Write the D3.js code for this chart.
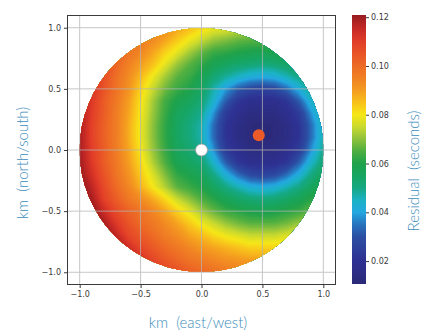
<!DOCTYPE html>
<html><head><meta charset="utf-8">
<script src="https://cdn.jsdelivr.net/npm/d3@7"></script>
<style>body{margin:0;background:#fff}svg{display:block}</style>
</head><body>
<svg id="c" width="424" height="331"></svg>
<script>
// ---- data ----
const xTicks = [-1.0, -0.5, 0.0, 0.5, 1.0];
const yTicks = [-1.0, -0.5, 0.0, 0.5, 1.0];
const cbTicks = [0.02, 0.04, 0.06, 0.08, 0.10, 0.12];
const cbRange = [0.0106, 0.1209];
const gridX = [-1.0,-0.9,-0.8,-0.7,-0.6,-0.5,-0.4,-0.3,-0.2,-0.1,0.0,0.1,0.2,0.3,0.4,0.5,0.6,0.7,0.8,0.9,1.0];
const gridY = [1.0,0.9,0.8,0.7,0.6,0.5,0.4,0.3,0.2,0.1,0.0,-0.1,-0.2,-0.3,-0.4,-0.5,-0.6,-0.7,-0.8,-0.9,-1.0];
// residual (seconds), rows = gridY, cols = gridX
const residual = [
[0.131,0.127,0.120,0.111,0.104,0.100,0.096,0.093,0.089,0.086,0.082,0.079,0.078,0.076,0.075,0.075,0.075,0.077,0.079,0.082,0.086],
[0.129,0.124,0.117,0.107,0.101,0.097,0.093,0.089,0.084,0.079,0.075,0.071,0.069,0.067,0.066,0.066,0.066,0.068,0.071,0.075,0.079],
[0.127,0.122,0.112,0.104,0.098,0.094,0.089,0.083,0.078,0.072,0.067,0.063,0.062,0.060,0.059,0.058,0.059,0.061,0.063,0.067,0.072],
[0.125,0.119,0.108,0.101,0.095,0.090,0.085,0.078,0.071,0.066,0.062,0.058,0.055,0.053,0.052,0.051,0.052,0.054,0.057,0.061,0.065],
[0.123,0.116,0.106,0.099,0.093,0.086,0.079,0.072,0.066,0.063,0.058,0.052,0.048,0.045,0.042,0.041,0.042,0.046,0.050,0.055,0.060],
[0.121,0.113,0.105,0.098,0.092,0.083,0.075,0.068,0.063,0.060,0.055,0.047,0.039,0.032,0.028,0.026,0.028,0.034,0.042,0.050,0.056],
[0.120,0.111,0.103,0.097,0.090,0.081,0.072,0.064,0.059,0.056,0.052,0.044,0.032,0.022,0.018,0.018,0.018,0.022,0.032,0.044,0.052],
[0.119,0.110,0.103,0.096,0.089,0.080,0.071,0.063,0.056,0.053,0.049,0.038,0.024,0.018,0.014,0.014,0.014,0.018,0.024,0.038,0.049],
[0.119,0.109,0.102,0.096,0.088,0.079,0.070,0.062,0.055,0.051,0.047,0.034,0.021,0.015,0.012,0.011,0.012,0.015,0.021,0.034,0.047],
[0.119,0.109,0.102,0.096,0.088,0.079,0.070,0.062,0.055,0.051,0.047,0.034,0.021,0.015,0.012,0.011,0.012,0.015,0.021,0.034,0.047],
[0.119,0.110,0.103,0.096,0.089,0.080,0.071,0.063,0.056,0.053,0.049,0.038,0.024,0.018,0.014,0.014,0.014,0.018,0.024,0.038,0.049],
[0.120,0.111,0.103,0.097,0.090,0.082,0.073,0.065,0.058,0.055,0.052,0.044,0.032,0.022,0.018,0.018,0.018,0.022,0.032,0.044,0.052],
[0.121,0.113,0.105,0.098,0.092,0.084,0.077,0.069,0.062,0.059,0.056,0.050,0.042,0.034,0.028,0.026,0.028,0.034,0.042,0.050,0.056],
[0.123,0.116,0.107,0.100,0.094,0.087,0.080,0.073,0.066,0.063,0.060,0.055,0.050,0.046,0.042,0.041,0.042,0.046,0.050,0.055,0.060],
[0.125,0.119,0.109,0.103,0.097,0.093,0.088,0.082,0.075,0.070,0.065,0.061,0.057,0.054,0.052,0.051,0.052,0.054,0.057,0.061,0.065],
[0.127,0.122,0.114,0.107,0.102,0.098,0.094,0.089,0.083,0.078,0.072,0.067,0.063,0.061,0.059,0.058,0.059,0.061,0.063,0.067,0.072],
[0.129,0.124,0.119,0.111,0.105,0.100,0.097,0.093,0.089,0.084,0.079,0.075,0.071,0.068,0.066,0.066,0.066,0.068,0.071,0.075,0.079],
[0.131,0.127,0.122,0.116,0.108,0.104,0.100,0.096,0.093,0.089,0.086,0.082,0.079,0.077,0.075,0.075,0.075,0.077,0.079,0.082,0.086],
[0.134,0.130,0.126,0.121,0.114,0.108,0.104,0.100,0.097,0.094,0.091,0.089,0.087,0.085,0.083,0.083,0.083,0.085,0.087,0.089,0.091],
[0.137,0.133,0.129,0.125,0.120,0.114,0.108,0.104,0.101,0.098,0.096,0.094,0.092,0.091,0.090,0.090,0.090,0.091,0.092,0.094,0.096],
[0.139,0.136,0.132,0.128,0.125,0.120,0.115,0.109,0.106,0.103,0.101,0.099,0.097,0.096,0.096,0.096,0.096,0.096,0.097,0.099,0.101]
];
const diskRadius = 1.0;
const pointX = [0.0, 0.47];
const pointY = [0.0, 0.12];
// colour map stops (value -> colour)
const stopValues = [0.0106,0.02,0.03,0.035,0.04,0.045,0.05,0.055,0.06,0.065,0.07,0.075,0.08,0.085,0.09,0.095,0.10,0.105,0.11,0.115,0.1209];
const stopColors = ["#2b2a78","#2e3192","#2c4fa3","#2873bd","#24a7e0","#1bb2c4","#16a882","#17a560","#1fa24b","#4dae41","#8dc23c","#c9d92e","#f6e717","#f8c11b","#f49c20","#f08123","#ed6b25","#e95427","#e13d29","#c72a25","#981b1f"];

// ---- drawing ----
const svg = d3.select('#c');
const x = d3.scaleLinear().domain([-1.1, 1.1]).range([67.5, 335.5]);
const y = d3.scaleLinear().domain([-1.1, 1.1]).range([284.5, 15.5]);
const color = d3.scaleLinear().domain(stopValues).range(stopColors).clamp(true);

const defs = svg.append('defs');
defs.append('clipPath').attr('id', 'disk').append('circle')
  .attr('cx', x(0)).attr('cy', y(0)).attr('r', x(diskRadius) - x(0));

const nx = gridX.length, ny = gridY.length;
const values = residual.flat();
const step = 0.0012;
const thresholds = [-1].concat(d3.range(cbRange[0] + step, 0.1215, step));
const contours = d3.contours().size([nx, ny]).thresholds(thresholds)(values);
const dxg = gridX[1] - gridX[0], dyg = gridY[1] - gridY[0];
const proj = d3.geoTransform({
  point(px, py) {
    this.stream.point(x(gridX[0] + (px - 0.5) * dxg), y(gridY[0] + (py - 0.5) * dyg));
  }
});
const path = d3.geoPath(proj);

svg.append('g').attr('clip-path', 'url(#disk)')
  .selectAll('path').data(contours).join('path')
  .attr('d', path)
  .attr('fill', (d, i) => i === 0 ? color(cbRange[0]) : color(d.value + step / 2))
  .attr('stroke', 'none');

// grid lines
const grid = svg.append('g').attr('stroke', '#b4b4b4').attr('stroke-width', 1).attr('opacity', 0.75);
grid.selectAll('.gx').data(xTicks).join('line')
  .attr('x1', d => x(d)).attr('x2', d => x(d)).attr('y1', y(1.1)).attr('y2', y(-1.1));
grid.selectAll('.gy').data(yTicks).join('line')
  .attr('y1', d => y(d)).attr('y2', d => y(d)).attr('x1', x(-1.1)).attr('x2', x(1.1));

// markers
const mk = svg.append('g');
mk.selectAll('circle').data(pointX).join('circle')
  .attr('cx', d => x(d)).attr('cy', (d, i) => y(pointY[i])).attr('r', 6)
  .attr('fill', (d, i) => i === 0 ? '#ffffff' : '#ec5a2a')
  .attr('stroke', (d, i) => i === 0 ? '#9a9a9a' : 'none')
  .attr('stroke-width', 0.8);

// axes
const fmt = d => (d < 0 ? '\u2212' : '') + Math.abs(d).toFixed(1);
const ax = svg.append('g').attr('transform', `translate(0,${y(-1.1)})`)
  .call(d3.axisBottom(x).tickValues(xTicks).tickFormat(fmt).tickSize(3.5).tickPadding(3));
const ay = svg.append('g').attr('transform', `translate(${x(-1.1)},0)`)
  .call(d3.axisLeft(y).tickValues(yTicks).tickFormat(fmt).tickSize(3.5).tickPadding(3));
[ax, ay].forEach(g => {
  g.select('.domain').remove();
  g.selectAll('line').attr('stroke', '#3a3a3a');
  g.selectAll('text').attr('fill', '#3a3a3a').style('font-family', 'DejaVu Sans').style('font-size', '8px');
});
svg.append('rect').attr('x', x(-1.1)).attr('y', y(1.1))
  .attr('width', x(1.1) - x(-1.1)).attr('height', y(-1.1) - y(1.1))
  .attr('fill', 'none').attr('stroke', '#3a3a3a').attr('stroke-width', 1);

// colour bar
const cb = d3.scaleLinear().domain(cbRange).range([284, 15]);
const grad = defs.append('linearGradient').attr('id', 'cbg')
  .attr('x1', 0).attr('y1', 1).attr('x2', 0).attr('y2', 0);
grad.selectAll('stop').data(stopValues).join('stop')
  .attr('offset', d => (d - cbRange[0]) / (cbRange[1] - cbRange[0]))
  .attr('stop-color', d => color(d));
svg.append('rect').attr('x', 352).attr('y', cb(cbRange[1])).attr('width', 14)
  .attr('height', cb(cbRange[0]) - cb(cbRange[1])).attr('fill', 'url(#cbg)');
const ac = svg.append('g').attr('transform', 'translate(366,0)')
  .call(d3.axisRight(cb).tickValues(cbTicks).tickFormat(d3.format('.2f')).tickSize(3).tickPadding(2));
ac.select('.domain').remove();
ac.selectAll('line').attr('stroke', '#3a3a3a');
ac.selectAll('text').attr('fill', '#3a3a3a').style('font-family', 'DejaVu Sans').style('font-size', '8px');

// titles
const tStyle = s => s.attr('fill', '#3d8dba').style('font-family', 'Lato, "Open Sans", sans-serif')
  .style('font-weight', '300').style('font-size', '15px').style('white-space', 'pre').attr('text-anchor', 'middle');
svg.append('text').attr('x', 198).attr('y', 328).text('km  (east/west)').call(tStyle);
svg.append('text').attr('transform', 'translate(28,163) rotate(-90)').text('km  (north/south)').call(tStyle);
svg.append('text').attr('transform', 'translate(419,171) rotate(-90)').text('Residual  (seconds)').call(tStyle);
</script>
</body></html>
